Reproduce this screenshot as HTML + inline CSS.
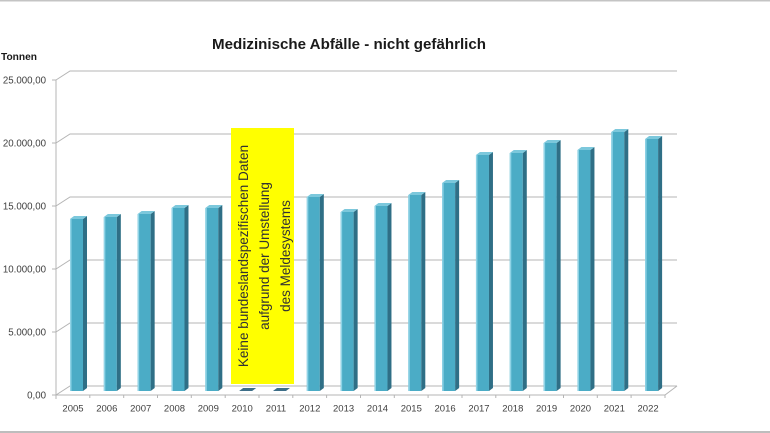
<!DOCTYPE html>
<html>
<head>
<meta charset="utf-8">
<style>
html,body{margin:0;padding:0;background:#fff;}
body{width:770px;height:433px;overflow:hidden;}
svg{display:block;}
text{font-family:"Liberation Sans",sans-serif;}
</style>
</head>
<body>
<svg width="770" height="433" viewBox="0 0 770 433" xmlns="http://www.w3.org/2000/svg">
<rect x="0" y="0" width="770" height="433" fill="#fff"/>
<!-- frame lines -->
<rect x="0" y="0" width="770" height="1.5" fill="#c4c4c4"/>
<rect x="0" y="431" width="770" height="2" fill="#bdbdbd"/>

<!-- title -->
<text x="212" y="49" font-size="15" font-weight="bold" fill="#1a1a1a" textLength="274" lengthAdjust="spacingAndGlyphs">Medizinische Abfälle - nicht gefährlich</text>
<text x="1" y="60" font-size="10" font-weight="bold" fill="#1a1a1a" textLength="36" lengthAdjust="spacingAndGlyphs">Tonnen</text>

<!-- gridlines -->
<g stroke="#b4b4b4" stroke-width="1" fill="none">
<polyline points="56,80 70,71 677,71"/>
<polyline points="56,143 70,134 677,134"/>
<polyline points="56,206 70,197 677,197"/>
<polyline points="56,269 70,260 677,260"/>
<polyline points="56,332 70,323 677,323"/>
<polyline points="56,395 70,386 677,386"/>
<line x1="56" y1="395" x2="665" y2="395"/>
<line x1="665" y1="395" x2="677" y2="386"/>
<line x1="56" y1="80" x2="56" y2="395"/>
<!-- y ticks -->
<line x1="52" y1="80" x2="56" y2="80"/>
<line x1="52" y1="143" x2="56" y2="143"/>
<line x1="52" y1="206" x2="56" y2="206"/>
<line x1="52" y1="269" x2="56" y2="269"/>
<line x1="52" y1="332" x2="56" y2="332"/>
<line x1="52" y1="395" x2="56" y2="395"/>
<!-- x ticks -->
<line x1="56" y1="395" x2="56" y2="399"/>
<line x1="89.8" y1="395" x2="89.8" y2="398"/>
<line x1="123.7" y1="395" x2="123.7" y2="398"/>
<line x1="157.5" y1="395" x2="157.5" y2="398"/>
<line x1="191.3" y1="395" x2="191.3" y2="398"/>
<line x1="225.2" y1="395" x2="225.2" y2="398"/>
<line x1="259" y1="395" x2="259" y2="398"/>
<line x1="292.8" y1="395" x2="292.8" y2="398"/>
<line x1="326.6" y1="395" x2="326.6" y2="398"/>
<line x1="360.5" y1="395" x2="360.5" y2="398"/>
<line x1="394.3" y1="395" x2="394.3" y2="398"/>
<line x1="428.1" y1="395" x2="428.1" y2="398"/>
<line x1="462" y1="395" x2="462" y2="398"/>
<line x1="495.8" y1="395" x2="495.8" y2="398"/>
<line x1="529.6" y1="395" x2="529.6" y2="398"/>
<line x1="563.5" y1="395" x2="563.5" y2="398"/>
<line x1="597.3" y1="395" x2="597.3" y2="398"/>
<line x1="631.1" y1="395" x2="631.1" y2="398"/>
<line x1="665" y1="395" x2="665" y2="398"/>
</g>

<!-- y labels -->
<g font-size="9.7" fill="#404040" text-anchor="end">
<text x="46" y="83.5">25.000,00</text>
<text x="46" y="146.5">20.000,00</text>
<text x="46" y="209.5">15.000,00</text>
<text x="46" y="272.5">10.000,00</text>
<text x="46" y="335.5">5.000,00</text>
<text x="46" y="398.5">0,00</text>
</g>

<!-- yellow note -->
<rect x="231" y="128" width="63" height="256" fill="#ffff00"/>
<g font-size="13.5" fill="#333" text-anchor="middle">
<text transform="translate(248 256) rotate(-90)" x="0" y="0">Keine bundeslandspezifischen Daten</text>
<text transform="translate(269 256) rotate(-90)" x="0" y="0">aufgrund der Umstellung</text>
<text transform="translate(290 256) rotate(-90)" x="0" y="0">des Meldesystems</text>
</g>

<!-- bars -->
<g>
<g transform="translate(70 0)"><rect x="0" y="219" width="13" height="172" fill="#4bacc6"/><rect x="0" y="219" width="1.5" height="172" fill="#8fd3e6"/><polygon points="13,219 17,216 17,388 13,391" fill="#2f6f86"/><polygon points="0,219 4,216 17,216 13,219" fill="#7cc8dc"/></g>
<g transform="translate(103.83 0)"><rect x="0" y="217" width="13" height="174" fill="#4bacc6"/><rect x="0" y="217" width="1.5" height="174" fill="#8fd3e6"/><polygon points="13,217 17,214 17,388 13,391" fill="#2f6f86"/><polygon points="0,217 4,214 17,214 13,217" fill="#7cc8dc"/></g>
<g transform="translate(137.66 0)"><rect x="0" y="214" width="13" height="177" fill="#4bacc6"/><rect x="0" y="214" width="1.5" height="177" fill="#8fd3e6"/><polygon points="13,214 17,211 17,388 13,391" fill="#2f6f86"/><polygon points="0,214 4,211 17,211 13,214" fill="#7cc8dc"/></g>
<g transform="translate(171.49 0)"><rect x="0" y="208" width="13" height="183" fill="#4bacc6"/><rect x="0" y="208" width="1.5" height="183" fill="#8fd3e6"/><polygon points="13,208 17,205 17,388 13,391" fill="#2f6f86"/><polygon points="0,208 4,205 17,205 13,208" fill="#7cc8dc"/></g>
<g transform="translate(205.32 0)"><rect x="0" y="208" width="13" height="183" fill="#4bacc6"/><rect x="0" y="208" width="1.5" height="183" fill="#8fd3e6"/><polygon points="13,208 17,205 17,388 13,391" fill="#2f6f86"/><polygon points="0,208 4,205 17,205 13,208" fill="#7cc8dc"/></g>
<g transform="translate(239.15 0)"><polygon points="0,391 13,391 17,388 4,388" fill="#3d6e88"/></g>
<g transform="translate(272.98 0)"><polygon points="0,391 13,391 17,388 4,388" fill="#3d6e88"/></g>
<g transform="translate(306.81 0)"><rect x="0" y="197" width="13" height="194" fill="#4bacc6"/><rect x="0" y="197" width="1.5" height="194" fill="#8fd3e6"/><polygon points="13,197 17,194 17,388 13,391" fill="#2f6f86"/><polygon points="0,197 4,194 17,194 13,197" fill="#7cc8dc"/></g>
<g transform="translate(340.64 0)"><rect x="0" y="212" width="13" height="179" fill="#4bacc6"/><rect x="0" y="212" width="1.5" height="179" fill="#8fd3e6"/><polygon points="13,212 17,209 17,388 13,391" fill="#2f6f86"/><polygon points="0,212 4,209 17,209 13,212" fill="#7cc8dc"/></g>
<g transform="translate(374.47 0)"><rect x="0" y="206" width="13" height="185" fill="#4bacc6"/><rect x="0" y="206" width="1.5" height="185" fill="#8fd3e6"/><polygon points="13,206 17,203 17,388 13,391" fill="#2f6f86"/><polygon points="0,206 4,203 17,203 13,206" fill="#7cc8dc"/></g>
<g transform="translate(408.3 0)"><rect x="0" y="195" width="13" height="196" fill="#4bacc6"/><rect x="0" y="195" width="1.5" height="196" fill="#8fd3e6"/><polygon points="13,195 17,192 17,388 13,391" fill="#2f6f86"/><polygon points="0,195 4,192 17,192 13,195" fill="#7cc8dc"/></g>
<g transform="translate(442.13 0)"><rect x="0" y="183" width="13" height="208" fill="#4bacc6"/><rect x="0" y="183" width="1.5" height="208" fill="#8fd3e6"/><polygon points="13,183 17,180 17,388 13,391" fill="#2f6f86"/><polygon points="0,183 4,180 17,180 13,183" fill="#7cc8dc"/></g>
<g transform="translate(475.96 0)"><rect x="0" y="155" width="13" height="236" fill="#4bacc6"/><rect x="0" y="155" width="1.5" height="236" fill="#8fd3e6"/><polygon points="13,155 17,152 17,388 13,391" fill="#2f6f86"/><polygon points="0,155 4,152 17,152 13,155" fill="#7cc8dc"/></g>
<g transform="translate(509.79 0)"><rect x="0" y="153" width="13" height="238" fill="#4bacc6"/><rect x="0" y="153" width="1.5" height="238" fill="#8fd3e6"/><polygon points="13,153 17,150 17,388 13,391" fill="#2f6f86"/><polygon points="0,153 4,150 17,150 13,153" fill="#7cc8dc"/></g>
<g transform="translate(543.62 0)"><rect x="0" y="143" width="13" height="248" fill="#4bacc6"/><rect x="0" y="143" width="1.5" height="248" fill="#8fd3e6"/><polygon points="13,143 17,140 17,388 13,391" fill="#2f6f86"/><polygon points="0,143 4,140 17,140 13,143" fill="#7cc8dc"/></g>
<g transform="translate(577.45 0)"><rect x="0" y="150" width="13" height="241" fill="#4bacc6"/><rect x="0" y="150" width="1.5" height="241" fill="#8fd3e6"/><polygon points="13,150 17,147 17,388 13,391" fill="#2f6f86"/><polygon points="0,150 4,147 17,147 13,150" fill="#7cc8dc"/></g>
<g transform="translate(611.28 0)"><rect x="0" y="132" width="13" height="259" fill="#4bacc6"/><rect x="0" y="132" width="1.5" height="259" fill="#8fd3e6"/><polygon points="13,132 17,129 17,388 13,391" fill="#2f6f86"/><polygon points="0,132 4,129 17,129 13,132" fill="#7cc8dc"/></g>
<g transform="translate(645.11 0)"><rect x="0" y="139" width="13" height="252" fill="#4bacc6"/><rect x="0" y="139" width="1.5" height="252" fill="#8fd3e6"/><polygon points="13,139 17,136 17,388 13,391" fill="#2f6f86"/><polygon points="0,139 4,136 17,136 13,139" fill="#7cc8dc"/></g>
</g>

<!-- x labels -->
<g font-size="9.5" fill="#404040" text-anchor="middle">
<text x="73" y="411.5">2005</text>
<text x="106.8" y="411.5">2006</text>
<text x="140.7" y="411.5">2007</text>
<text x="174.5" y="411.5">2008</text>
<text x="208.3" y="411.5">2009</text>
<text x="242.2" y="411.5">2010</text>
<text x="276" y="411.5">2011</text>
<text x="309.8" y="411.5">2012</text>
<text x="343.6" y="411.5">2013</text>
<text x="377.5" y="411.5">2014</text>
<text x="411.3" y="411.5">2015</text>
<text x="445.1" y="411.5">2016</text>
<text x="479" y="411.5">2017</text>
<text x="512.8" y="411.5">2018</text>
<text x="546.6" y="411.5">2019</text>
<text x="580.5" y="411.5">2020</text>
<text x="614.3" y="411.5">2021</text>
<text x="648.1" y="411.5">2022</text>
</g>
</svg>
</body>
</html>
